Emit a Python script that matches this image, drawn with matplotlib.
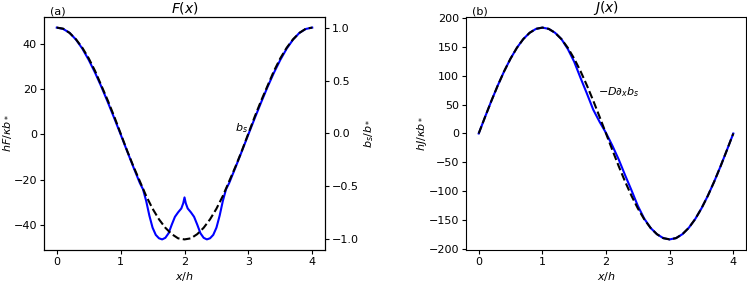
import matplotlib.pyplot as plt

# b_s / b_* (dashed, left panel, right axis)
x_b = [0.0, 0.1, 0.2, 0.3, 0.4, 0.5, 0.6, 0.7, 0.8, 0.9, 1.0,
       1.1, 1.2, 1.3, 1.4, 1.5, 1.6, 1.7, 1.8, 1.9, 2.0,
       2.1, 2.2, 2.3, 2.4, 2.5, 2.6, 2.7, 2.8, 2.9, 3.0,
       3.1, 3.2, 3.3, 3.4, 3.5, 3.6, 3.7, 3.8, 3.9, 4.0]
b_s = [1.0, 0.99, 0.95, 0.89, 0.81, 0.71, 0.59, 0.45, 0.31, 0.16, 0.0,
       -0.16, -0.31, -0.45, -0.59, -0.71, -0.81, -0.89, -0.95, -0.99, -1.0,
       -0.99, -0.95, -0.89, -0.81, -0.71, -0.59, -0.45, -0.31, -0.16, 0.0,
       0.16, 0.31, 0.45, 0.59, 0.71, 0.81, 0.89, 0.95, 0.99, 1.0]

# hF / kappa b_* (blue, left panel)
x_F = [0.0, 0.1, 0.2, 0.3, 0.4, 0.5, 0.6, 0.7, 0.8, 0.9, 1.0,
       1.1, 1.2, 1.3, 1.35, 1.4, 1.45, 1.5, 1.55, 1.6, 1.65, 1.7,
       1.75, 1.8, 1.85, 1.9, 1.95, 1.98, 2.0, 2.02, 2.05, 2.1, 2.15,
       2.2, 2.25, 2.3, 2.35, 2.4, 2.45, 2.5, 2.55, 2.6, 2.65, 2.7,
       2.8, 2.9, 3.0, 3.1, 3.2, 3.3, 3.4, 3.5, 3.6, 3.7, 3.8, 3.9, 4.0]
F = [47.3, 46.7, 45.0, 42.0, 38.0, 33.0, 27.3, 21.0, 14.2, 7.2, 0.0,
     -7.3, -14.5, -21.5, -24.3, -29.5, -36.0, -41.3, -44.5, -46.0, -46.5, -45.8,
     -43.8, -40.0, -36.5, -34.5, -32.8, -30.5, -27.9, -30.5, -32.8, -34.5, -36.5,
     -40.0, -43.8, -45.8, -46.5, -46.0, -44.5, -41.3, -36.0, -29.5, -24.3, -21.5,
     -14.5, -7.3, 0.0, 7.2, 14.2, 21.0, 27.3, 33.0, 38.0, 42.0, 45.0, 46.7, 47.3]

# hJ / kappa b_* (blue) and -D d_x b_s (dashed), right panel
x_J = x_b
J_ref = [0.0, 28.6, 56.6, 83.1, 107.6, 129.4, 148.1, 163.1, 174.0, 180.8, 183.0,
         180.8, 174.0, 163.1, 148.1, 129.4, 107.6, 83.1, 56.6, 28.6, 0.0,
         -28.6, -56.6, -83.1, -107.6, -129.4, -148.1, -163.1, -174.0, -180.8, -183.0,
         -180.8, -174.0, -163.1, -148.1, -129.4, -107.6, -83.1, -56.6, -28.6, 0.0]
J = [0.0, 28.6, 56.6, 83.1, 107.6, 129.4, 148.1, 163.1, 174.0, 180.8, 183.0,
     180.8, 174.0, 163.1, 146.0, 124.0, 96.0, 69.0, 41.0, 20.0, 1.0,
     -21.0, -45.0, -72.0, -98.0, -125.0, -147.0, -163.1, -174.0, -180.8, -183.0,
     -180.8, -174.0, -163.1, -148.1, -129.4, -107.6, -83.1, -56.6, -28.6, 0.0]

x_ticks = [0, 1, 2, 3, 4]
F_ticks = [-40, -20, 0, 20, 40]
b_ticks = [-1.0, -0.5, 0.0, 0.5, 1.0]
J_ticks = [-200, -150, -100, -50, 0, 50, 100, 150, 200]

fs = 8
plt.rcParams['font.size'] = fs

fig = plt.figure(figsize=(7.47, 2.82), dpi=100)

# left panel
ax1 = fig.add_axes([0.0589, 0.1135, 0.3762, 0.8262])
ax1.plot(x_F, F, color='blue', lw=1.5)
ax1.set_xticks(x_ticks)
ax1.set_yticks(F_ticks)
ax1.set_xlabel('$x/h$', fontsize=fs, labelpad=2)
ax1.set_ylabel(r'$hF/\kappa b_*$', fontsize=fs, labelpad=0)
ax1.set_title('$F(x)$', fontsize=10, pad=3)
ax1.text(0.02, 1.012, '(a)', transform=ax1.transAxes, fontsize=fs)
ax1.tick_params(labelsize=fs, length=3, pad=2)

ax1b = ax1.twinx()
ax1b.plot(x_b, b_s, 'k--', lw=1.5)
ax1b.set_yticks(b_ticks)
ax1b.set_ylabel('$b_s/b_*$', fontsize=fs, labelpad=2)
ax1b.tick_params(labelsize=fs, length=3, pad=2)
ax1b.text(2.79, 0.05, '$b_s$', fontsize=fs, va='center')

# right panel
ax2 = fig.add_axes([0.6238, 0.1135, 0.3749, 0.8262])
ax2.plot(x_J, J, color='blue', lw=1.5)
ax2.plot(x_J, J_ref, 'k--', lw=1.5)
ax2.set_xticks(x_ticks)
ax2.set_yticks(J_ticks)
ax2.set_xlabel('$x/h$', fontsize=fs, labelpad=2)
ax2.set_ylabel(r'$hJ/\kappa b_*$', fontsize=fs, labelpad=0)
ax2.set_title('$J(x)$', fontsize=10, pad=3)
ax2.text(0.02, 1.012, '(b)', transform=ax2.transAxes, fontsize=fs)
ax2.tick_params(labelsize=fs, length=3, pad=2)
ax2.text(1.88, 72, r'$-D\partial_x b_s$', fontsize=fs, va='center')

fig.savefig('out.png', dpi=100)
